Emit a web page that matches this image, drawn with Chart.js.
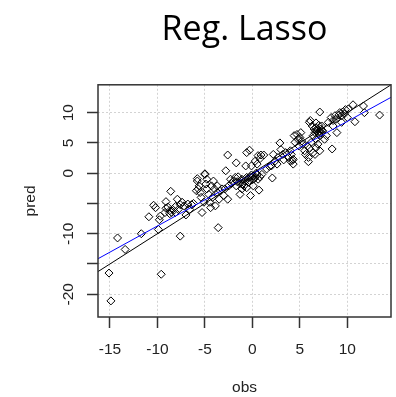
<!DOCTYPE html>
<html>
<head>
<meta charset="utf-8">
<script src="https://cdn.jsdelivr.net/npm/chart.js@4/dist/chart.umd.min.js"></script>
<style>
  html, body { margin: 0; padding: 0; background: #fff; }
  #wrap { width: 396px; height: 397px; }
</style>
</head>
<body>
<div id="wrap"><canvas id="chart1" width="396" height="397"></canvas></div>
<script>
const obs = [
  -15.1, -14.9, -14.2, -13.4, -11.7, -10.9, -9.9, -9.6, -10.4, -10.2, -8.6, -7.6, -3.6, -5.0, -2.6, -1.7, -0.7, -0.6, -0.3, 0.7,
  -0.2, -1.3, 2.9, 2.1, 0.9, 7.1, 8.4, 8.9, 10.8, 10.6, 11.8, 11.7, 13.4, 5.9, 4.2,
  -9.8, -9.7, -9.2, -9.1, -8.9, -8.7, -8.5, -8.4, -8.1, -7.9, -7.8, -7.6, -7.4, -7.2, -7.0, -6.8, -6.6, -6.4, -6.2, -9.1, -8.1, -8.7,
  -5.8, -5.8, -5.7, -5.6, -5.5, -5.4, -5.3, -5.1, -5.0, -4.9, -4.8, -4.6, -4.5, -4.4, -4.3, -4.2, -4.1, -4.0, -3.9, -3.7,
  -3.7, -3.5, -3.4, -3.2, -3.0, -2.9, -2.8, -2.6, -5.9, -4.8,
  -2.5, -2.3, -2.2, -2.0, -1.8, -1.7, -1.6, -1.5, -1.3, -1.1, -1.0, -0.9, -0.8, -0.6, -0.4, -0.2, -0.1, 0.0, 0.2, 0.3,
  0.4, 0.5, 0.6, 0.8, 1.0, -1.1, -0.6, 0.1, 0.3, 0.5, 0.6, 0.8, 1.2, -0.1, -0.5, -0.3, 0.1, -1.2,
  1.5, 1.8, 2.0, 2.2, 2.4, 2.6, 2.7, 3.0, 3.2, 3.3, 3.5, 3.8, 4.0, 4.1, 4.3, 4.4, 4.5, 4.7, 4.8, 4.9,
  5.0, 5.1, 5.2, 5.3, 5.5, 5.6, 5.8, 5.9, 6.0, 6.2, 6.4, 6.6, 6.0, 4.0, 4.3,
  6.1, 6.3, 6.5, 6.6, 6.7, 6.7, 6.8, 6.9, 7.0, 7.1, 7.2, 7.3, 7.4, 7.6, 7.8, 6.7, 6.9, 7.1, 6.4, 6.7,
  7.0, 7.1, 6.9, 7.2, 7.3,
  8.0, 8.3, 8.5, 8.7, 8.8, 9.1, 9.2, 9.4, 9.5, 9.7, 9.8, 10.0, 10.1, 9.4, 8.5
];
const pred = [
  -16.5, -21.1, -10.7, -12.6, -10.0, -7.2, -9.3, -16.7, -5.3, -5.7, -3.0, -10.4, -9.0, -0.1, 3.0, 1.7, 1.2, 3.4, 3.8, -2.8,
  -3.7, -3.5, 5.0, -0.8, 3.0, 10.1, 4.0, 6.7, 8.5, 11.3, 10.0, 11.1, 9.6, 1.9, 2.1,
  -7.7, -7.1, -6.5, -5.8, -5.6, -6.2, -6.5, -6.0, -5.5, -4.3, -6.0, -5.2, -4.8, -5.4, -6.9, -5.1, -6.0, -5.2, -5.0, -4.7, -6.5, -6.7,
  -0.9, -1.3, -2.6, -2.1, -3.2, -4.0, -6.5, -4.8, -0.2, -1.8, -2.6, -3.5, -4.8, -5.7, -2.1, -4.0, -1.3, -2.6, -5.4, -3.2,
  -2.1, -4.3, -2.9, -2.6, -3.7, -2.6, 0.4, -4.3, -2.9, -1.0,
  -2.1, -1.0, -1.7, -1.3, -0.7, -2.1, -1.4, -0.6, -1.7, -1.0, -1.8, -2.1, -1.3, -0.7, -1.5, -0.6, -0.3, -1.1, -0.9, -0.6,
  0.0, -0.3, -1.0, -0.6, -0.2, -2.6, -2.4, -2.1, 2.0, 1.5, 2.9, 2.4, 3.0, 1.2, -0.9, -1.2, -0.5, -1.2,
  0.7, 1.1, 1.2, 3.1, 2.0, 1.5, 2.6, 3.9, 3.1, 2.2, 3.4, 2.6, 2.0, 3.1, 2.3, 6.2, 5.1, 6.4, 5.6, 4.5,
  5.9, 6.7, 5.3, 4.8, 3.7, 3.1, 4.5, 2.6, 4.1, 5.1, 6.2, 3.1, 8.4, 3.7, 1.5,
  8.7, 7.8, 7.3, 6.7, 8.3, 7.5, 7.0, 6.7, 7.9, 6.2, 7.3, 7.8, 7.0, 5.6, 6.2, 4.2, 4.8, 3.7, 3.4, 5.6,
  6.5, 6.9, 7.2, 6.6, 7.1,
  8.4, 9.2, 8.7, 9.5, 8.9, 9.6, 10.0, 9.5, 10.1, 9.8, 10.5, 9.2, 10.6, 8.4, 7.8
];

// identity line and lasso fit line (end points at the axis limits)
const refX = [-16.3, 14.6];
const refY = [-16.3, 14.6];
const fitX = [-16.3, 14.6];
const fitY = [-14.17, 12.53];

const xTicks = [-15, -10, -5, 0, 5, 10];
const yTicks = [-20, -15, -10, -5, 0, 5, 10];
const yLabels = [-20, -10, 0, 5, 10];

const axisFont = { family: 'Liberation Sans, Arial, sans-serif', size: 15.5 };
const txt = '#222';

const boxPlugin = {
  id: 'box',
  afterDatasetsDraw(chart) {
    const a = chart.chartArea;
    const c = chart.ctx;
    c.save();
    c.strokeStyle = '#333';
    c.lineWidth = 1.5;
    c.strokeRect(a.left, a.top, a.right - a.left, a.bottom - a.top);
    c.restore();
  }
};

const ctx1 = document.getElementById('chart1').getContext('2d');
const myChart1 = new Chart(ctx1, {
  type: 'scatter',
  data: {
    datasets: [{
      type: 'line',
      data: refX.map((x, i) => ({ x: x, y: refY[i] })),
      borderColor: '#000',
      borderWidth: 1,
      pointRadius: 0
    }, {
      type: 'line',
      data: fitX.map((x, i) => ({ x: x, y: fitY[i] })),
      borderColor: '#0000ff',
      borderWidth: 1,
      pointRadius: 0
    }, {
      data: obs.map((x, i) => ({ x: x, y: pred[i] })),
      pointStyle: 'rectRot',
      pointRadius: 4,
      borderColor: '#000',
      borderWidth: 1,
      backgroundColor: 'rgba(0,0,0,0)'
    }]
  },
  options: {
    responsive: false,
    animation: false,
    events: [],
    layout: { padding: { right: 4 } },
    plugins: {
      legend: { display: false },
      tooltip: { enabled: false },
      title: {
        display: true,
        text: 'Reg. Lasso',
        fullSize: false,
        color: '#000',
        font: { family: 'Open Sans', size: 34, weight: 'normal' },
        padding: { top: 10, bottom: 34 }
      }
    },
    scales: {
      x: {
        type: 'linear',
        min: -16.26,
        max: 14.6,
        afterBuildTicks: s => { s.ticks = xTicks.map(v => ({ value: v })); },
        afterFit: s => { s.height = 80; },
        ticks: { font: axisFont, color: txt, padding: 12, maxRotation: 0 },
        grid: { color: '#d3d3d3', lineWidth: 1, tickLength: 11, tickColor: '#333', tickWidth: 1.5 },
        border: { display: false, dash: [2, 2] },
        title: { display: true, text: 'obs', font: axisFont, color: txt, padding: { top: 0, bottom: 0 } }
      },
      y: {
        type: 'linear',
        min: -23.76,
        max: 14.6,
        afterBuildTicks: s => { s.ticks = yTicks.map(v => ({ value: v })); },
        afterFit: s => { s.width = 98; },
        ticks: {
          font: axisFont, color: txt, padding: 7,
          minRotation: 90, maxRotation: 90, crossAlign: 'center',
          callback: v => yLabels.includes(v) ? String(v) : ''
        },
        grid: { color: '#d3d3d3', lineWidth: 1, tickLength: 11, tickColor: '#333', tickWidth: 1.5 },
        border: { display: false, dash: [2, 2] },
        title: { display: true, text: 'pred', font: axisFont, color: txt, padding: { top: 21, bottom: 0 } }
      }
    }
  },
  plugins: [boxPlugin]
});
</script>
</body>
</html>
